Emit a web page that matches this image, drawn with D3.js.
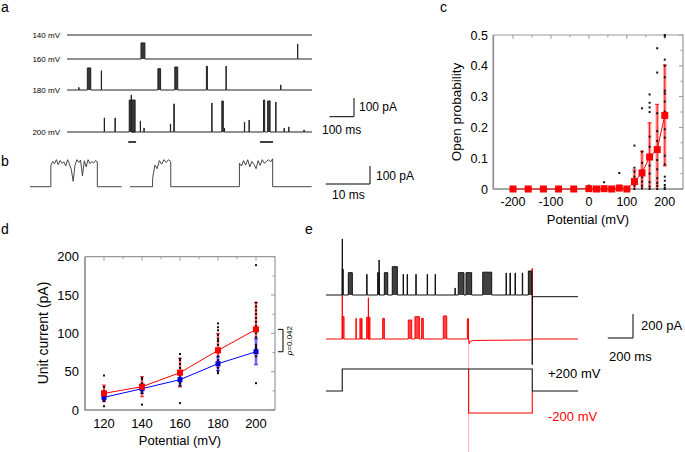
<!DOCTYPE html>
<html>
<head>
<meta charset="utf-8">
<script src="https://cdn.jsdelivr.net/npm/d3@7"></script>
<style>
body { margin: 0; background: #fff; }
svg { font-family: "Liberation Sans", Arial, sans-serif; }
</style>
</head>
<body>
<svg id="fig" width="685" height="452"></svg>
<script>
// ---------- panel a : single channel openings, [start ms, end ms, amplitude pA]
var aLabels = ["140 mV", "160 mV", "180 mV", "200 mV"];
var aEvents140 = [];
var aEvents160 = [[302, 318, 86], [941, 942, 80]];
var aEvents180 = [[48, 49, 14], [83, 97, 118], [140, 141, 103], [371, 382, 114], [440, 452, 123],
                  [569, 573, 127], [649, 650, 128], [872, 873, 27]];
var aEvents200 = [[152, 153, 75], [196, 197, 75], [254, 278, 171], [262, 263, 198], [299, 300, 59],
                  [314, 315, 21], [422, 423, 43], [436, 438, 150], [591, 592, 155], [632, 638, 166],
                  [642, 643, 21], [724, 725, 53], [743, 744, 64], [802, 807, 171], [819, 829, 166],
                  [852, 853, 160], [886, 887, 21], [905, 906, 27], [967, 968, 11]];
var aMarked = [[250, 282], [788, 841]];   // stretches expanded in b

// ---------- panel b : expanded openings
var bSegLength = [20.7, 41];   // ms
var bTop1 = [118, 140, 128, 150, 122, 146, 130, 138, 115, 150, 126, 95, 30, 120, 150, 135, 148, 60,
             144, 110, 150, 128, 140, 132, 145, 138];
var bTop2 = [45, 120, 100, 145, 125, 150, 135, 150, 140];
var bTop3 = [130, 115, 145, 120, 150, 110, 140, 125, 100, 145, 118, 150, 130, 140, 150, 138, 155];
var bBursts = [[0, 4.7, 15.2, bTop1], [1, 5.1, 9.2, bTop2], [1, 24.7, 32.2, bTop3]];

// ---------- panel c : open probability vs potential
var cVolt = [-200, -160, -120, -80, -40, 0, 20, 40, 60, 80, 100, 120, 140, 160, 180, 200];
var cMean = [0, 0, 0, 0, 0, 0.001, 0, 0.001, 0, 0.003, 0, 0.024, 0.052, 0.104, 0.128, 0.239];
var cSem  = [0, 0, 0, 0, 0, 0.001, 0, 0.002, 0, 0.009, 0, 0.038, 0.071, 0.111, 0.147, 0.164];
var cDots = [
  [0, [0.011, 0.005]],
  [40, [0.022]],
  [80, [0.052, 0.01]],
  [120, [0.141, 0.069, 0.056, 0.04, 0.02, 0.011, 0]],
  [140, [0.262, 0.121, 0.085, 0.06, 0.038, 0.024, 0.011, 0.002]],
  [160, [0.307, 0.28, 0.265, 0.25, 0.17, 0.137, 0.1, 0.076, 0.05, 0.022, 0.008, 0]],
  [180, [0.457, 0.378, 0.246, 0.188, 0.156, 0.127, 0.094, 0.064, 0.035, 0.02, 0.01, 0]],
  [200, [0.5, 0.495, 0.42, 0.4, 0.363, 0.319, 0.31, 0.284, 0.251, 0.194, 0.167, 0.108, 0.08,
         0.04, 0.027, 0.013, 0.005, 0]]
];
var cXTicks = [-200, -100, 0, 100, 200];
var cYTicks = [0, 0.1, 0.2, 0.3, 0.4, 0.5];

// ---------- panel d : unit current vs potential
var dVolt = [120, 140, 160, 180, 200];
var dRed = [21.7, 30.4, 48.7, 77.8, 105.2];
var dRedErr = [10.9, 13.1, 18.7, 22.2, 35.2];
var dBlue = [16.5, 27.8, 39.6, 60.4, 76];
var dBlueErr = [4.5, 6, 8, 9, 17];
var dDots = [
  [120, [45, 30, 25, 22, 20, 17, 15, 12, 5]],
  [140, [42, 40, 35, 32, 30, 28, 25, 22, 7]],
  [160, [73, 67, 65, 60, 55, 50, 45, 40, 35, 32, 9]],
  [180, [113, 108, 104, 98, 93, 90, 85, 80, 75, 70, 65, 60, 55, 50, 48]],
  [200, [189, 140, 135, 130, 125, 120, 115, 110, 105, 100, 95, 85, 82, 80, 78, 75, 70, 35]]
];
var dXTicks = [120, 140, 160, 180, 200];
var dYTicks = [0, 50, 100, 150, 200];
var dPText = "=0.042";

// ---------- panel e : voltage protocol and currents
var eStepOn = 129, eRedStep = 1132, eStepOff = 1637;
var eBlackEvents = [[129, 130, 467], [129, 137, 214], [177, 209, 186], [323, 326, 172], [410, 423, 186],
                    [421, 422, 292], [463, 490, 186], [526, 566, 236], [612, 615, 172], [644, 647, 172],
                    [713, 716, 172], [803, 806, 172], [866, 869, 172], [1024, 1026, 58],
                    [1050, 1095, 186], [1111, 1156, 186], [1244, 1315, 190], [1429, 1432, 183],
                    [1460, 1464, 183], [1500, 1504, 183], [1558, 1561, 183], [1606, 1635, 200]];
var eRedEvents = [[129, 130, 365], [129, 143, 186], [238, 240, 172], [270, 272, 172], [283, 285, 172],
                  [323, 349, 181], [336, 337, 344], [450, 463, 172], [653, 680, 158], [706, 741, 186],
                  [759, 772, 172], [931, 958, 192], [1122, 1131, 169]];
var eRedAfter = [[1137, -40], [1145, -20], [1170, -12], [1637, -8]];
var eRedDip = -1200, eRedOffSpike = 590, eBlackOffSpike = -580, eBlackAfter = -14;

var svg = d3.select("#fig");

function label(x, y, t, size, anchor, color) {
  return svg.append("text").attr("x", x).attr("y", y).attr("font-size", size)
    .attr("text-anchor", anchor || "start").attr("fill", color || "#000").text(t);
}

// openings -> step trace points
function stepPoints(events, t0, t1) {
  var pts = [[t0, 0]];
  events.slice().sort(function(a, b) { return a[0] - b[0]; }).forEach(function(e) {
    pts.push([e[0], 0], [e[0], e[2]], [e[1], e[2]], [e[1], 0]);
  });
  pts.push([t1, 0]);
  return pts;
}

// panel letters
label(1, 12, "a", 14);
label(1, 166, "b", 14);
label(440, 12, "c", 14);
label(1, 234, "d", 14);
label(305, 234, "e", 14);

// ================= panel a
(function() {
  var x = d3.scaleLinear().domain([0, 1000]).range([67, 312]);
  var y = d3.scaleLinear().domain([0, 100]).range([0, -18.7]);
  var bases = [35, 59, 90, 132];
  var traces = [aEvents140, aEvents160, aEvents180, aEvents200];
  traces.forEach(function(ev, i) {
    var b = bases[i];
    var pts = stepPoints(ev, 0, 1000);
    svg.append("path").datum(pts)
      .attr("d", d3.area().x(function(d) { return x(d[0]); }).y0(b).y1(function(d) { return b + y(d[1]); }))
      .attr("fill", "#222").attr("opacity", 0.9);
    svg.append("path").datum(pts)
      .attr("d", d3.line().x(function(d) { return x(d[0]); }).y(function(d) { return b + y(d[1]); }))
      .attr("fill", "none").attr("stroke", "#222").attr("stroke-width", 1);
    label(60, b + 3, aLabels[i], 8, "end");
  });
  aMarked.forEach(function(m) {
    svg.append("line").attr("x1", x(m[0])).attr("x2", x(m[1])).attr("y1", 142).attr("y2", 142)
      .attr("stroke", "#000").attr("stroke-width", 1.5);
  });
  // scale bar
  var cx = 354, cy = 116.7;
  svg.append("path").attr("d", "M" + (cx - (x(100) - x(0))) + "," + cy + "H" + cx + "V" + (cy + y(100)))
    .attr("fill", "none").attr("stroke", "#000").attr("stroke-width", 1);
  label(359, 111, "100 pA", 12);
  label(322, 134, "100 ms", 12);
})();

// ================= panel b
(function() {
  var x = d3.scaleLinear().domain([0, 10]).range([0, 44.3]);
  var y = d3.scaleLinear().domain([0, 100]).range([0, -18]);
  var starts = [30, 130], base = 186.7;
  bSegLength.forEach(function(len, s) {
    var pts = [[0, 0]];
    bBursts.filter(function(b) { return b[0] === s; }).forEach(function(b) {
      var top = b[3];
      pts.push([b[1], 0]);
      top.forEach(function(v, i) { pts.push([b[1] + (b[2] - b[1]) * i / (top.length - 1), v]); });
      pts.push([b[2], 0]);
    });
    pts.push([len, 0]);
    svg.append("path").datum(pts)
      .attr("d", d3.line().x(function(d) { return starts[s] + x(d[0]); }).y(function(d) { return base + y(d[1]); }))
      .attr("fill", "none").attr("stroke", "#333").attr("stroke-width", 0.9);
  });
  var cx = 370, cy = 184;
  svg.append("path").attr("d", "M" + (cx - x(10)) + "," + cy + "H" + cx + "V" + (cy + y(100)))
    .attr("fill", "none").attr("stroke", "#000").attr("stroke-width", 1);
  label(376, 180, "100 pA", 12);
  label(332, 199, "10 ms", 12);
})();

// frame with inward ticks on top and right
function frame(x, y, topTicks, rightTicks, majX, majY) {
  var x0 = x.range()[0], x1 = x.range()[1], y0 = y.range()[0], y1 = y.range()[1];
  var g = svg.append("g").attr("stroke", "#999").attr("fill", "none");
  topTicks.forEach(function(t) {
    var l = majX.indexOf(t) >= 0 ? 4 : 2.5;
    g.append("line").attr("x1", x(t)).attr("x2", x(t)).attr("y1", y1).attr("y2", y1 + l).attr("stroke-width", 1);
  });
  rightTicks.forEach(function(t) {
    var l = majY.indexOf(t) >= 0 ? 4 : 2.5;
    g.append("line").attr("x1", x1).attr("x2", x1 - l).attr("y1", y(t)).attr("y2", y(t)).attr("stroke-width", 1);
  });
  g.append("path").attr("d", "M" + x1 + "," + y0 + "V" + y1 + "H" + x0).attr("stroke-width", 1.2);
  g.append("path").attr("d", "M" + x0 + "," + y1 + "V" + y0 + "H" + x1).attr("stroke", "#8a8a8a").attr("stroke-width", 1.6);
}

function dotsAt(list, x, y) {
  list.forEach(function(p) {
    p[1].forEach(function(v) {
      svg.append("rect").attr("x", x(p[0]) - 1).attr("y", y(v) - 1).attr("width", 2).attr("height", 2).attr("fill", "#111");
    });
  });
}

// ================= panel c
(function() {
  var x = d3.scaleLinear().domain([-252, 248]).range([493.3, 683]);
  var y = d3.scaleLinear().domain([0, 0.5]).range([189, 35]);
  frame(x, y, d3.range(-200, 201, 50), d3.range(0, 0.501, 0.05).map(function(v) { return +v.toFixed(2); }), cXTicks, cYTicks);
  cXTicks.forEach(function(t) { label(x(t), 206, String(t), 12.5, "middle"); });
  cYTicks.forEach(function(t) { label(488, y(t) + 4.5, String(t), 12.5, "end"); });
  label(588, 224, "Potential (mV)", 13, "middle");
  svg.append("text").attr("transform", "translate(461,112) rotate(-90)").attr("text-anchor", "middle")
    .attr("font-size", 13.5).text("Open probability");

  var eb = svg.append("g");
  cVolt.forEach(function(v, i) {
    if (cSem[i] <= 0) return;
    var hi = y(cMean[i] + cSem[i]), lo = y(Math.max(0, cMean[i] - cSem[i]));
    eb.append("line").attr("x1", x(v)).attr("x2", x(v)).attr("y1", hi).attr("y2", lo)
      .attr("stroke", "#ffaaaa").attr("stroke-width", 3.5);
    eb.append("line").attr("x1", x(v)).attr("x2", x(v)).attr("y1", hi).attr("y2", lo)
      .attr("stroke", "#f00").attr("stroke-width", 0.9);
    eb.append("line").attr("x1", x(v) - 2).attr("x2", x(v) + 2).attr("y1", hi).attr("y2", hi)
      .attr("stroke", "#f00").attr("stroke-width", 0.9);
    if (cMean[i] - cSem[i] > 0)
      eb.append("line").attr("x1", x(v) - 2).attr("x2", x(v) + 2).attr("y1", lo).attr("y2", lo)
        .attr("stroke", "#f00").attr("stroke-width", 0.9);
  });
  dotsAt(cDots, x, y);
  svg.append("path").datum(cVolt.map(function(v, i) { return [v, cMean[i]]; }))
    .attr("d", d3.line().x(function(d) { return x(d[0]); }).y(function(d) { return y(d[1]); }))
    .attr("fill", "none").attr("stroke", "#f00").attr("stroke-width", 1);
  cVolt.forEach(function(v, i) {
    svg.append("rect").attr("x", x(v) - 3.5).attr("y", y(cMean[i]) - 3.5).attr("width", 7).attr("height", 7).attr("fill", "#f00");
  });
})();

// ================= panel d
(function() {
  var x = d3.scaleLinear().domain([110, 210]).range([85, 275]);
  var y = d3.scaleLinear().domain([0, 200]).range([410, 256.7]);
  frame(x, y, d3.range(120, 201, 10), d3.range(0, 201, 25), dXTicks, dYTicks);
  dXTicks.forEach(function(t) { label(x(t), 428, String(t), 13, "middle"); });
  dYTicks.forEach(function(t) { label(79, y(t) + 4.5, String(t), 13, "end"); });
  label(180, 445, "Potential (mV)", 13, "middle");
  svg.append("text").attr("transform", "translate(48,333) rotate(-90)").attr("text-anchor", "middle")
    .attr("font-size", 14).text("Unit current (pA)");

  function errs(mean, err, light, dark) {
    dVolt.forEach(function(v, i) {
      var hi = y(mean[i] + err[i]), lo = y(mean[i] - err[i]);
      svg.append("line").attr("x1", x(v)).attr("x2", x(v)).attr("y1", hi).attr("y2", lo)
        .attr("stroke", light).attr("stroke-width", 3);
      svg.append("line").attr("x1", x(v)).attr("x2", x(v)).attr("y1", hi).attr("y2", lo)
        .attr("stroke", dark).attr("stroke-width", 0.8);
      [hi, lo].forEach(function(yy) {
        svg.append("line").attr("x1", x(v) - 2).attr("x2", x(v) + 2).attr("y1", yy).attr("y2", yy)
          .attr("stroke", dark).attr("stroke-width", 0.8);
      });
    });
  }
  errs(dRed, dRedErr, "#ffb0b0", "#f00");
  errs(dBlue, dBlueErr, "#b0b0ff", "#00f");
  dotsAt(dDots, x, y);
  var line = d3.line().x(function(d) { return x(d[0]); }).y(function(d) { return y(d[1]); });
  svg.append("path").datum(dVolt.map(function(v, i) { return [v, dBlue[i]]; })).attr("d", line)
    .attr("fill", "none").attr("stroke", "#00f").attr("stroke-width", 1);
  svg.append("path").datum(dVolt.map(function(v, i) { return [v, dRed[i]]; })).attr("d", line)
    .attr("fill", "none").attr("stroke", "#f00").attr("stroke-width", 1);
  dVolt.forEach(function(v, i) {
    svg.append("rect").attr("x", x(v) - 2.5).attr("y", y(dBlue[i]) - 2.5).attr("width", 5).attr("height", 5).attr("fill", "#0000cc");
    svg.append("rect").attr("x", x(v) - 3).attr("y", y(dRed[i]) - 3).attr("width", 6).attr("height", 6).attr("fill", "#f00");
  });
  // significance bracket between the two means at 200 mV
  var yt = y(dRed[4]), yb = y(dBlue[4]);
  svg.append("path").attr("d", "M278," + yt + "H283V" + yb + "H278").attr("fill", "none").attr("stroke", "#000").attr("stroke-width", 1);
  var pt = svg.append("text").attr("transform", "translate(292," + ((yt + yb) / 2) + ") rotate(-90)")
    .attr("text-anchor", "middle").attr("font-size", 8);
  pt.append("tspan").attr("font-style", "italic").text("p");
  pt.append("tspan").text(dPText);
})();

// ================= panel e
(function() {
  var x = d3.scaleLinear().domain([0, 2000]).range([326, 578]);
  var y = d3.scaleLinear().domain([0, 200]).range([0, -24]);
  var v = d3.scaleLinear().domain([0, 200]).range([391, 369]);
  var bBase = 295, rBase = 339;
  var fx = function(d) { return x(d[0]); };

  // red current trace
  var red = stepPoints(eRedEvents, 0, eRedStep).concat(eRedAfter.slice(0, -1))
    .concat([[eStepOff, eRedAfter[eRedAfter.length - 1][1]], [eStepOff, eRedOffSpike], [eStepOff + 2, 0], [2000, 0]]);
  // capacitive transient of the -200 mV step runs off the bottom
  svg.append("line").attr("x1", x(eRedStep)).attr("x2", x(eRedStep)).attr("y1", rBase).attr("y2", rBase + y(eRedDip))
    .attr("stroke", "#ffb3b3").attr("stroke-width", 1);
  svg.append("path").datum(stepPoints(eRedEvents, 0, eRedStep))
    .attr("d", d3.area().x(fx).y0(rBase).y1(function(d) { return rBase + y(d[1]); }))
    .attr("fill", "#f00").attr("opacity", 0.75);
  svg.append("path").datum(red)
    .attr("d", d3.line().x(fx).y(function(d) { return rBase + y(d[1]); }))
    .attr("fill", "none").attr("stroke", "#f00").attr("stroke-width", 1);

  // black current trace
  var blk = stepPoints(eBlackEvents, 0, eStepOff)
    .concat([[eStepOff, eBlackOffSpike], [eStepOff + 2, eBlackAfter], [2000, eBlackAfter]]);
  svg.append("path").datum(stepPoints(eBlackEvents, 0, eStepOff))
    .attr("d", d3.area().x(fx).y0(bBase).y1(function(d) { return bBase + y(d[1]); }))
    .attr("fill", "#111").attr("opacity", 0.8);
  svg.append("path").datum(blk)
    .attr("d", d3.line().x(fx).y(function(d) { return bBase + y(d[1]); }))
    .attr("fill", "none").attr("stroke", "#111").attr("stroke-width", 1);

  // voltage protocol
  var pline = d3.line().x(fx).y(function(d) { return v(d[1]); });
  svg.append("path").datum([[eRedStep, 200], [eRedStep, -200], [eStepOff, -200], [eStepOff, 0]])
    .attr("d", pline).attr("fill", "none").attr("stroke", "#f00").attr("stroke-width", 1.1);
  svg.append("path").datum([[0, 0], [eStepOn, 0], [eStepOn, 200], [eStepOff, 200], [eStepOff, 0], [2000, 0]])
    .attr("d", pline).attr("fill", "none").attr("stroke", "#111").attr("stroke-width", 1.1);
  label(548, 378, "+200 mV", 13);
  label(548, 421, "-200 mV", 13, "start", "#f00");

  // scale bar
  var cx = 633, cy = 338;
  svg.append("path").attr("d", "M" + (cx - (x(200) - x(0))) + "," + cy + "H" + cx + "V" + (cy + y(200)))
    .attr("fill", "none").attr("stroke", "#000").attr("stroke-width", 1);
  label(641, 330, "200 pA", 13);
  label(609, 361, "200 ms", 13);
})();
</script>
</body>
</html>
